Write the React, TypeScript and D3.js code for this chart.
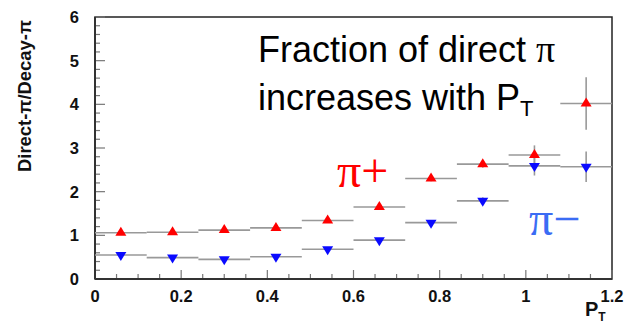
import React from "react";
import * as d3 from "d3";

const ptCenters = [0.06, 0.18, 0.3, 0.42, 0.54, 0.66, 0.78, 0.9, 1.02, 1.14];
const binHalfWidth = 0.06;
const piPlus = [1.06, 1.07, 1.12, 1.17, 1.34, 1.65, 2.3, 2.63, 2.84, 4.02];
const piPlusErr = [0.03, 0.03, 0.03, 0.03, 0.04, 0.05, 0.06, 0.08, 0.22, 0.6];
const piMinus = [0.55, 0.49, 0.45, 0.51, 0.68, 0.89, 1.29, 1.79, 2.59, 2.57];
const piMinusErr = [0.03, 0.03, 0.03, 0.03, 0.04, 0.05, 0.06, 0.08, 0.22, 0.35];
const xTicks = [0, 0.2, 0.4, 0.6, 0.8, 1, 1.2];
const yTicks = [0, 1, 2, 3, 4, 5, 6];

const W = 631;
const H = 324;
const left = 95;
const right = 612;
const top = 17;
const bottom = 279;

export default function App() {
  const x = d3.scaleLinear().domain([0, 1.2]).range([left, right]);
  const y = d3.scaleLinear().domain([0, 6]).range([bottom, top]);

  const xMinor = d3.range(0, 1.2001, 0.05).filter((v) => Math.abs(v / 0.2 - Math.round(v / 0.2)) > 1e-6);
  const yMinor = d3.range(0, 6.0001, 0.2).filter((v) => Math.abs(v - Math.round(v)) > 1e-6);

  const tri = (cx: number, cy: number, up: boolean) => {
    const w = 5.5;
    const h = 9;
    if (up) return `M${cx - w},${cy + h / 3}L${cx + w},${cy + h / 3}L${cx},${cy - (2 * h) / 3}Z`;
    return `M${cx - w},${cy - h / 3}L${cx + w},${cy - h / 3}L${cx},${cy + (2 * h) / 3}Z`;
  };

  const series = [
    { vals: piPlus, errs: piPlusErr, color: "#ff0000", up: true },
    { vals: piMinus, errs: piMinusErr, color: "#0a0aff", up: false },
  ];

  return (
    <svg
      width={W}
      height={H}
      style={{ position: "absolute", left: 0, top: 0, background: "#fff" }}
      fontFamily="'Liberation Sans', Arial, sans-serif"
    >
      <rect x={0} y={0} width={W} height={H} fill="#fff" />
      {/* frame */}
      <rect x={left} y={top} width={right - left} height={bottom - top} fill="none" stroke="#222" strokeWidth={1.5} />
      {/* y ticks */}
      {yTicks.map((t) => (
        <line key={"ym" + t} x1={left} x2={left + 10} y1={y(t)} y2={y(t)} stroke="#777" strokeWidth={1.2} />
      ))}
      {yMinor.map((t, i) => (
        <line key={"yn" + i} x1={left} x2={left + 5} y1={y(t)} y2={y(t)} stroke="#777" strokeWidth={1.2} />
      ))}
      {/* x ticks */}
      {xTicks.map((t) => (
        <line key={"xm" + t} x1={x(t)} x2={x(t)} y1={bottom} y2={bottom - 9} stroke="#777" strokeWidth={1.2} />
      ))}
      {xMinor.map((t, i) => (
        <line key={"xn" + i} x1={x(t)} x2={x(t)} y1={bottom} y2={bottom - 5} stroke="#777" strokeWidth={1.2} />
      ))}
      <line x1={left} x2={left} y1={top} y2={bottom} stroke="#333" strokeWidth={2} />
      <line x1={left} x2={right} y1={bottom} y2={bottom} stroke="#333" strokeWidth={2} />
      {/* tick labels */}
      {yTicks.map((t) => (
        <text key={"yl" + t} x={79} y={y(t) + 6} textAnchor="end" fontSize={16.5} fontWeight="bold" fill="#111">
          {t}
        </text>
      ))}
      {xTicks.map((t) => (
        <text key={"xl" + t} x={x(t)} y={302} textAnchor="middle" fontSize={16.5} fontWeight="bold" fill="#111">
          {String(t)}
        </text>
      ))}
      {/* axis titles */}
      <text
        transform={`translate(31,96) rotate(-90)`}
        textAnchor="middle"
        fontSize={19}
        fontWeight="bold"
        fill="#111"
        textLength={152}
        lengthAdjust="spacingAndGlyphs"
      >
        Direct-π/Decay-π
      </text>
      <text x={585} y={316} fontSize={20} fontWeight="bold" fill="#111">
        P<tspan fontSize={12} dy={5}>T</tspan>
      </text>
      {/* error bars */}
      {series.map((s, si) => (
        <g key={"s" + si}>
          {ptCenters.map((c, i) => (
            <g key={i}>
              <line
                x1={x(c - binHalfWidth)}
                x2={x(c + binHalfWidth)}
                y1={y(s.vals[i])}
                y2={y(s.vals[i])}
                stroke="#999"
                strokeWidth={1.6}
              />
              <line
                x1={x(c)}
                x2={x(c)}
                y1={y(s.vals[i] - s.errs[i])}
                y2={y(s.vals[i] + s.errs[i])}
                stroke="#999"
                strokeWidth={1.6}
              />
            </g>
          ))}
        </g>
      ))}
      {/* markers */}
      {series.map((s, si) => (
        <g key={"m" + si}>
          {ptCenters.map((c, i) => (
            <path key={i} d={tri(x(c), y(s.vals[i]), s.up)} fill={s.color} />
          ))}
        </g>
      ))}
      {/* annotations */}
      <text x={258} y={62} fontSize={36} fill="#000">
        Fraction of direct <tspan fontFamily="'Liberation Serif', serif" fontSize={38}>π</tspan>
      </text>
      <text x={258} y={110} fontSize={36} fill="#000">
        increases with P<tspan fontSize={22} dy={6}>T</tspan>
      </text>
      <text x={337} y={187} fontSize={48} fill="#ff0000" fontFamily="'Liberation Serif', serif">
        π+
      </text>
      <text x={529} y={235} fontSize={48} fill="#3a6cf4" fontFamily="'Liberation Serif', serif">
        π−
      </text>
    </svg>
  );
}
